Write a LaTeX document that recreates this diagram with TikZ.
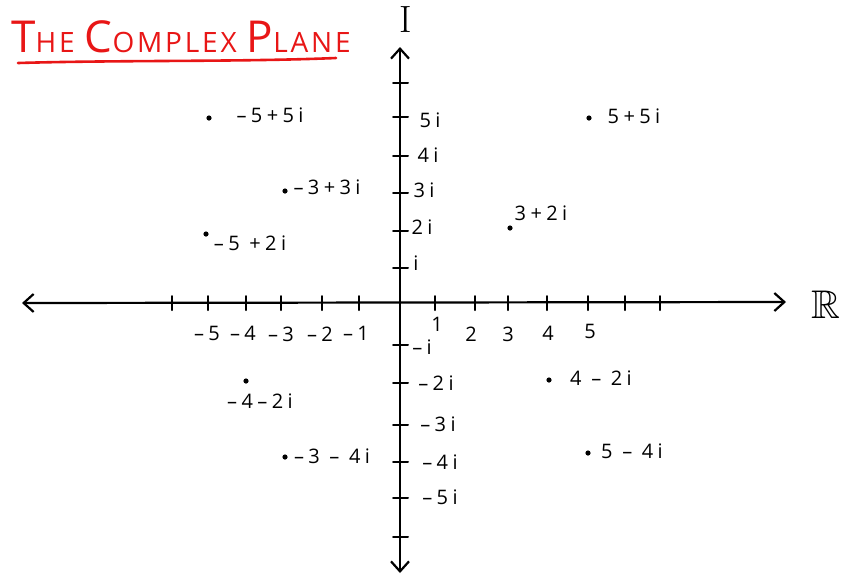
\documentclass[tikz,border=0pt]{standalone}
\usepackage{amssymb}
\usepackage{fontspec}
\setsansfont{Open Sans}[LetterSpace=22]
\newfontfamily\titlefont{Open Sans}[LetterSpace=10]
\usetikzlibrary{arrows.meta}
\definecolor{penred}{RGB}{232,22,22}
\newcommand{\bigcapital}[1]{{\fontsize{22}{24}\selectfont #1}}

\begin{document}
\begin{tikzpicture}[x=0.5pt,y=-0.5pt,line cap=round,
  axis/.style={line width=1.1pt,{Straight Barb[length=5pt,width=9pt]}-{Straight Barb[length=5pt,width=9pt]}},
  tickmark/.style={line width=1pt},
  lab/.style={font=\sffamily\fontsize{10}{12}\selectfont,inner sep=1pt},
  dot/.style={circle,fill,inner sep=0pt,minimum size=2.6pt}]
  \useasboundingbox (0,0) rectangle (841,575);
  % title, hand lettered in red and underlined
  \node[text=penred,font=\titlefont\fontsize{14}{16}\selectfont] (title) at (181,37)
    {\bigcapital{T}HE \bigcapital{C}OMPLEX \bigcapital{P}LANE};
  \coordinate (ul) at (18,63); \coordinate (ur) at (336,58);
  \draw[penred,line width=1.3pt] (ul) .. controls (120,60) and (240,62) .. (ur);
  % the two axes
  \coordinate (xl) at (22,303); \coordinate (xr) at (786,302);
  \coordinate (yt) at (400,47); \coordinate (yb) at (400,573);
  \draw[axis] (xl) -- (xr);
  \draw[axis] (yb) -- (yt);
  \node[font=\rmfamily\fontsize{19}{21}\selectfont] (imag) at (406,20) {I};
  \node[font=\fontsize{20}{22}\selectfont] (real) at (826,305) {$\mathbb{R}$};
  % ticks on the real axis
  \foreach \x in {172,208,246,281,322,359,435,475,508,547,588,625,660}{\draw[tickmark] (\x,296) -- (\x,310);}
  \foreach \x/\y/\lab in {207/333/{–5},243/333/{–4},281/334/{–3},320/334/{–2},356/333/{–1},437/324/1,471/334/2,508/334/3,548/333/4,590/331/5}{
    \node[lab] (re\lab) at (\x,\y) {\lab};
  }
  % ticks on the imaginary axis
  \foreach \y in {83,117,156,193,231,268,345,383,425,462,498,537}{\draw[tickmark] (393,\y) -- (408,\y);}
  \foreach \x/\y/\nm/\lab in {430/120/a/5i,428/155/b/4i,424/190/c/3i,422/227/d/2i,416/263/e/i,422/347/f/{–i},436/383/g/{–2i},438/424/h/{–3i},440/462/k/{–4i},440/497/m/{–5i}}{
    \node[lab] (im\nm) at (\x,\y) {\lab};
  }
  % the plotted numbers
  \foreach \n/\px/\py/\lx/\ly/\lab in {1/209/118/270/115/{–5+5i},2/285/191/327/187/{–3+3i},3/206/234/250/243/{–5 +2i},4/510/228/541/213/{3+2i},5/589/118/634/116/{5+5i},6/549/380/601/378/{4 – 2i},7/588/453/632/451/{5 – 4i},8/246/381/260/401/{–4–2i},9/285/457/332/456/{–3 – 4i}}{
    \node[dot] (p\n) at (\px,\py) {};
    \node[lab] (l\n) at (\lx,\ly) {\lab};
  }
\end{tikzpicture}
\end{document}
